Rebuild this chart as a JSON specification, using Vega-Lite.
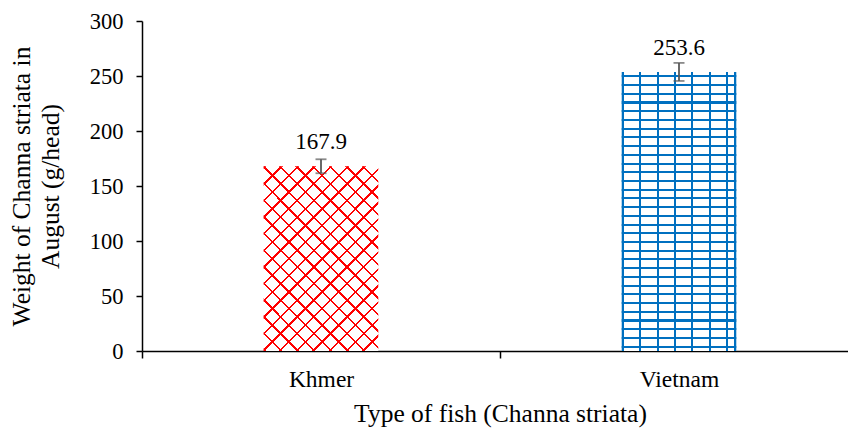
{
  "$schema": "https://vega.github.io/schema/vega-lite/v6.json",
  "autosize": {"type": "none"},
  "padding": {"left": 142, "top": 21, "right": 0, "bottom": 81},
  "width": 706,
  "height": 330,
  "background": "#ffffff",
  "config": {
    "font": "Liberation Serif",
    "view": {"stroke": null},
    "text": {"font": "Liberation Serif"},
    "axis": {"labelFont": "Liberation Serif", "titleFont": "Liberation Serif", "labelColor": "#000", "titleColor": "#000", "titleFontWeight": "normal", "grid": false, "domainColor": "#000", "tickColor": "#000", "domainWidth": 1.5, "tickWidth": 1.5}
  },
  "data": {
    "values": [
      {"type": "Khmer", "value": 167.9, "lo": 161.6, "hi": 174.3},
      {"type": "Vietnam", "value": 253.6, "lo": 245.5, "hi": 261.9}
    ]
  },
  "encoding": {
    "x": {
      "field": "type", "type": "nominal", "sort": ["Khmer", "Vietnam"],
      "scale": {"domain": ["Khmer", "Vietnam"], "range": [0, 716], "paddingInner": 0, "paddingOuter": 0},
      "axis": {"title": "Type of fish (Channa striata)", "labelAngle": 0, "tickBand": "extent", "tickSize": 7, "labelFontSize": 23.5, "labelPadding": 9, "titleFontSize": 25.5, "titlePadding": 11}
    }
  },
  "layer": [
    {
      "transform": [{"filter": "datum.type === 'Khmer'"}],
      "mark": {"type": "bar", "width": {"band": 0.32}, "fill": {"gradient": "linear", "x1": 0, "y1": 0, "x2": 0.726, "y2": 1.17, "stops": [{"offset":0,"color":"#f00"},{"offset":0.008,"color":"#f00"},{"offset":0.008,"color":"#fff"},{"offset":0.0556,"color":"#fff"},
{"offset":0.0556,"color":"#f00"},{"offset":0.0636,"color":"#f00"},{"offset":0.0636,"color":"#fff"},{"offset":0.1111,"color":"#fff"},
{"offset":0.1111,"color":"#f00"},{"offset":0.1191,"color":"#f00"},{"offset":0.1191,"color":"#fff"},{"offset":0.1667,"color":"#fff"},
{"offset":0.1667,"color":"#f00"},{"offset":0.1747,"color":"#f00"},{"offset":0.1747,"color":"#fff"},{"offset":0.2222,"color":"#fff"},
{"offset":0.2222,"color":"#f00"},{"offset":0.2302,"color":"#f00"},{"offset":0.2302,"color":"#fff"},{"offset":0.2778,"color":"#fff"},
{"offset":0.2778,"color":"#f00"},{"offset":0.2858,"color":"#f00"},{"offset":0.2858,"color":"#fff"},{"offset":0.3333,"color":"#fff"},
{"offset":0.3333,"color":"#f00"},{"offset":0.3413,"color":"#f00"},{"offset":0.3413,"color":"#fff"},{"offset":0.3889,"color":"#fff"},
{"offset":0.3889,"color":"#f00"},{"offset":0.3969,"color":"#f00"},{"offset":0.3969,"color":"#fff"},{"offset":0.4444,"color":"#fff"},
{"offset":0.4444,"color":"#f00"},{"offset":0.4524,"color":"#f00"},{"offset":0.4524,"color":"#fff"},{"offset":0.5,"color":"#fff"},
{"offset":0.5,"color":"#f00"},{"offset":0.508,"color":"#f00"},{"offset":0.508,"color":"#fff"},{"offset":0.5556,"color":"#fff"},
{"offset":0.5556,"color":"#f00"},{"offset":0.5636,"color":"#f00"},{"offset":0.5636,"color":"#fff"},{"offset":0.6111,"color":"#fff"},
{"offset":0.6111,"color":"#f00"},{"offset":0.6191,"color":"#f00"},{"offset":0.6191,"color":"#fff"},{"offset":0.6667,"color":"#fff"},
{"offset":0.6667,"color":"#f00"},{"offset":0.6747,"color":"#f00"},{"offset":0.6747,"color":"#fff"},{"offset":0.7222,"color":"#fff"},
{"offset":0.7222,"color":"#f00"},{"offset":0.7302,"color":"#f00"},{"offset":0.7302,"color":"#fff"},{"offset":0.7778,"color":"#fff"},
{"offset":0.7778,"color":"#f00"},{"offset":0.7858,"color":"#f00"},{"offset":0.7858,"color":"#fff"},{"offset":0.8333,"color":"#fff"},
{"offset":0.8333,"color":"#f00"},{"offset":0.8413,"color":"#f00"},{"offset":0.8413,"color":"#fff"},{"offset":0.8889,"color":"#fff"},
{"offset":0.8889,"color":"#f00"},{"offset":0.8969,"color":"#f00"},{"offset":0.8969,"color":"#fff"},{"offset":0.9444,"color":"#fff"},
{"offset":0.9444,"color":"#f00"},{"offset":0.9524,"color":"#f00"},{"offset":0.9524,"color":"#fff"},{"offset":1,"color":"#fff"}]}},
      "encoding": {
        "y": {"field": "value", "type": "quantitative", "scale": {"domain": [0, 300]},
          "axis": {"values": [0, 50, 100, 150, 200, 250, 300], "title": ["Weight of Channa striata in", "August (g/head)"], "labelFontSize": 22.5, "labelPadding": 13, "tickSize": 6, "titleFontSize": 25.5, "titleLineHeight": 29, "titlePadding": 26}}
      }
    },
    {
      "transform": [{"filter": "datum.type === 'Khmer'"}],
      "mark": {"type": "bar", "width": {"band": 0.32}, "fill": {"gradient": "linear", "x1": 0, "y1": 1, "x2": 0.726, "y2": -0.17, "stops": [{"offset":0,"color":"#f00"},{"offset":0.008,"color":"#f00"},{"offset":0.008,"color":"rgba(255,0,0,0)"},{"offset":0.0556,"color":"rgba(255,0,0,0)"},
{"offset":0.0556,"color":"#f00"},{"offset":0.0636,"color":"#f00"},{"offset":0.0636,"color":"rgba(255,0,0,0)"},{"offset":0.1111,"color":"rgba(255,0,0,0)"},
{"offset":0.1111,"color":"#f00"},{"offset":0.1191,"color":"#f00"},{"offset":0.1191,"color":"rgba(255,0,0,0)"},{"offset":0.1667,"color":"rgba(255,0,0,0)"},
{"offset":0.1667,"color":"#f00"},{"offset":0.1747,"color":"#f00"},{"offset":0.1747,"color":"rgba(255,0,0,0)"},{"offset":0.2222,"color":"rgba(255,0,0,0)"},
{"offset":0.2222,"color":"#f00"},{"offset":0.2302,"color":"#f00"},{"offset":0.2302,"color":"rgba(255,0,0,0)"},{"offset":0.2778,"color":"rgba(255,0,0,0)"},
{"offset":0.2778,"color":"#f00"},{"offset":0.2858,"color":"#f00"},{"offset":0.2858,"color":"rgba(255,0,0,0)"},{"offset":0.3333,"color":"rgba(255,0,0,0)"},
{"offset":0.3333,"color":"#f00"},{"offset":0.3413,"color":"#f00"},{"offset":0.3413,"color":"rgba(255,0,0,0)"},{"offset":0.3889,"color":"rgba(255,0,0,0)"},
{"offset":0.3889,"color":"#f00"},{"offset":0.3969,"color":"#f00"},{"offset":0.3969,"color":"rgba(255,0,0,0)"},{"offset":0.4444,"color":"rgba(255,0,0,0)"},
{"offset":0.4444,"color":"#f00"},{"offset":0.4524,"color":"#f00"},{"offset":0.4524,"color":"rgba(255,0,0,0)"},{"offset":0.5,"color":"rgba(255,0,0,0)"},
{"offset":0.5,"color":"#f00"},{"offset":0.508,"color":"#f00"},{"offset":0.508,"color":"rgba(255,0,0,0)"},{"offset":0.5556,"color":"rgba(255,0,0,0)"},
{"offset":0.5556,"color":"#f00"},{"offset":0.5636,"color":"#f00"},{"offset":0.5636,"color":"rgba(255,0,0,0)"},{"offset":0.6111,"color":"rgba(255,0,0,0)"},
{"offset":0.6111,"color":"#f00"},{"offset":0.6191,"color":"#f00"},{"offset":0.6191,"color":"rgba(255,0,0,0)"},{"offset":0.6667,"color":"rgba(255,0,0,0)"},
{"offset":0.6667,"color":"#f00"},{"offset":0.6747,"color":"#f00"},{"offset":0.6747,"color":"rgba(255,0,0,0)"},{"offset":0.7222,"color":"rgba(255,0,0,0)"},
{"offset":0.7222,"color":"#f00"},{"offset":0.7302,"color":"#f00"},{"offset":0.7302,"color":"rgba(255,0,0,0)"},{"offset":0.7778,"color":"rgba(255,0,0,0)"},
{"offset":0.7778,"color":"#f00"},{"offset":0.7858,"color":"#f00"},{"offset":0.7858,"color":"rgba(255,0,0,0)"},{"offset":0.8333,"color":"rgba(255,0,0,0)"},
{"offset":0.8333,"color":"#f00"},{"offset":0.8413,"color":"#f00"},{"offset":0.8413,"color":"rgba(255,0,0,0)"},{"offset":0.8889,"color":"rgba(255,0,0,0)"},
{"offset":0.8889,"color":"#f00"},{"offset":0.8969,"color":"#f00"},{"offset":0.8969,"color":"rgba(255,0,0,0)"},{"offset":0.9444,"color":"rgba(255,0,0,0)"},
{"offset":0.9444,"color":"#f00"},{"offset":0.9524,"color":"#f00"},{"offset":0.9524,"color":"rgba(255,0,0,0)"},{"offset":1,"color":"rgba(255,0,0,0)"}]}},
      "encoding": {"y": {"field": "value", "type": "quantitative"}}
    },
    {
      "transform": [{"filter": "datum.type === 'Vietnam'"}],
      "mark": {"type": "bar", "width": {"band": 0.32}, "fill": {"gradient": "linear", "x1": 0, "y1": 0, "x2": 0, "y2": 1, "stops": [{"offset":0,"color":"#fff"},
{"offset":0.0118,"color":"#fff"},{"offset":0.0118,"color":"#0070c0"},{"offset":0.0193,"color":"#0070c0"},{"offset":0.0193,"color":"#fff"},
{"offset":0.0430,"color":"#fff"},{"offset":0.0430,"color":"#0070c0"},{"offset":0.0505,"color":"#0070c0"},{"offset":0.0505,"color":"#fff"},
{"offset":0.0743,"color":"#fff"},{"offset":0.0743,"color":"#0070c0"},{"offset":0.0818,"color":"#0070c0"},{"offset":0.0818,"color":"#fff"},
{"offset":0.1055,"color":"#fff"},{"offset":0.1055,"color":"#0070c0"},{"offset":0.1130,"color":"#0070c0"},{"offset":0.1130,"color":"#fff"},
{"offset":0.1368,"color":"#fff"},{"offset":0.1368,"color":"#0070c0"},{"offset":0.1443,"color":"#0070c0"},{"offset":0.1443,"color":"#fff"},
{"offset":0.1680,"color":"#fff"},{"offset":0.1680,"color":"#0070c0"},{"offset":0.1755,"color":"#0070c0"},{"offset":0.1755,"color":"#fff"},
{"offset":0.1993,"color":"#fff"},{"offset":0.1993,"color":"#0070c0"},{"offset":0.2068,"color":"#0070c0"},{"offset":0.2068,"color":"#fff"},
{"offset":0.2305,"color":"#fff"},{"offset":0.2305,"color":"#0070c0"},{"offset":0.2380,"color":"#0070c0"},{"offset":0.2380,"color":"#fff"},
{"offset":0.2618,"color":"#fff"},{"offset":0.2618,"color":"#0070c0"},{"offset":0.2693,"color":"#0070c0"},{"offset":0.2693,"color":"#fff"},
{"offset":0.2930,"color":"#fff"},{"offset":0.2930,"color":"#0070c0"},{"offset":0.3005,"color":"#0070c0"},{"offset":0.3005,"color":"#fff"},
{"offset":0.3243,"color":"#fff"},{"offset":0.3243,"color":"#0070c0"},{"offset":0.3318,"color":"#0070c0"},{"offset":0.3318,"color":"#fff"},
{"offset":0.3555,"color":"#fff"},{"offset":0.3555,"color":"#0070c0"},{"offset":0.3630,"color":"#0070c0"},{"offset":0.3630,"color":"#fff"},
{"offset":0.3868,"color":"#fff"},{"offset":0.3868,"color":"#0070c0"},{"offset":0.3943,"color":"#0070c0"},{"offset":0.3943,"color":"#fff"},
{"offset":0.4180,"color":"#fff"},{"offset":0.4180,"color":"#0070c0"},{"offset":0.4255,"color":"#0070c0"},{"offset":0.4255,"color":"#fff"},
{"offset":0.4493,"color":"#fff"},{"offset":0.4493,"color":"#0070c0"},{"offset":0.4568,"color":"#0070c0"},{"offset":0.4568,"color":"#fff"},
{"offset":0.4805,"color":"#fff"},{"offset":0.4805,"color":"#0070c0"},{"offset":0.4880,"color":"#0070c0"},{"offset":0.4880,"color":"#fff"},
{"offset":0.5118,"color":"#fff"},{"offset":0.5118,"color":"#0070c0"},{"offset":0.5193,"color":"#0070c0"},{"offset":0.5193,"color":"#fff"},
{"offset":0.5430,"color":"#fff"},{"offset":0.5430,"color":"#0070c0"},{"offset":0.5505,"color":"#0070c0"},{"offset":0.5505,"color":"#fff"},
{"offset":0.5743,"color":"#fff"},{"offset":0.5743,"color":"#0070c0"},{"offset":0.5818,"color":"#0070c0"},{"offset":0.5818,"color":"#fff"},
{"offset":0.6055,"color":"#fff"},{"offset":0.6055,"color":"#0070c0"},{"offset":0.6130,"color":"#0070c0"},{"offset":0.6130,"color":"#fff"},
{"offset":0.6368,"color":"#fff"},{"offset":0.6368,"color":"#0070c0"},{"offset":0.6443,"color":"#0070c0"},{"offset":0.6443,"color":"#fff"},
{"offset":0.6680,"color":"#fff"},{"offset":0.6680,"color":"#0070c0"},{"offset":0.6755,"color":"#0070c0"},{"offset":0.6755,"color":"#fff"},
{"offset":0.6993,"color":"#fff"},{"offset":0.6993,"color":"#0070c0"},{"offset":0.7068,"color":"#0070c0"},{"offset":0.7068,"color":"#fff"},
{"offset":0.7305,"color":"#fff"},{"offset":0.7305,"color":"#0070c0"},{"offset":0.7380,"color":"#0070c0"},{"offset":0.7380,"color":"#fff"},
{"offset":0.7618,"color":"#fff"},{"offset":0.7618,"color":"#0070c0"},{"offset":0.7693,"color":"#0070c0"},{"offset":0.7693,"color":"#fff"},
{"offset":0.7930,"color":"#fff"},{"offset":0.7930,"color":"#0070c0"},{"offset":0.8005,"color":"#0070c0"},{"offset":0.8005,"color":"#fff"},
{"offset":0.8243,"color":"#fff"},{"offset":0.8243,"color":"#0070c0"},{"offset":0.8318,"color":"#0070c0"},{"offset":0.8318,"color":"#fff"},
{"offset":0.8555,"color":"#fff"},{"offset":0.8555,"color":"#0070c0"},{"offset":0.8630,"color":"#0070c0"},{"offset":0.8630,"color":"#fff"},
{"offset":0.8868,"color":"#fff"},{"offset":0.8868,"color":"#0070c0"},{"offset":0.8943,"color":"#0070c0"},{"offset":0.8943,"color":"#fff"},
{"offset":0.9180,"color":"#fff"},{"offset":0.9180,"color":"#0070c0"},{"offset":0.9255,"color":"#0070c0"},{"offset":0.9255,"color":"#fff"},
{"offset":0.9493,"color":"#fff"},{"offset":0.9493,"color":"#0070c0"},{"offset":0.9568,"color":"#0070c0"},{"offset":0.9568,"color":"#fff"},
{"offset":0.9805,"color":"#fff"},{"offset":0.9805,"color":"#0070c0"},{"offset":0.9880,"color":"#0070c0"},{"offset":0.9880,"color":"#fff"},
{"offset":1,"color":"#fff"}]}},
      "encoding": {"y": {"field": "value", "type": "quantitative"}}
    },
    {
      "transform": [{"filter": "datum.type === 'Vietnam'"}],
      "mark": {"type": "bar", "width": {"band": 0.32}, "fill": {"gradient": "linear", "x1": 0, "y1": 0, "x2": 1, "y2": 0, "stops": [
{"offset":0,"color":"#0070c0"},{"offset":0.0175,"color":"#0070c0"},{"offset":0.0175,"color":"rgba(0,112,192,0)"},
{"offset":0.152,"color":"rgba(0,112,192,0)"},{"offset":0.152,"color":"#0070c0"},{"offset":0.1695,"color":"#0070c0"},{"offset":0.1695,"color":"rgba(0,112,192,0)"},
{"offset":0.304,"color":"rgba(0,112,192,0)"},{"offset":0.304,"color":"#0070c0"},{"offset":0.3215,"color":"#0070c0"},{"offset":0.3215,"color":"rgba(0,112,192,0)"},
{"offset":0.456,"color":"rgba(0,112,192,0)"},{"offset":0.456,"color":"#0070c0"},{"offset":0.4735,"color":"#0070c0"},{"offset":0.4735,"color":"rgba(0,112,192,0)"},
{"offset":0.608,"color":"rgba(0,112,192,0)"},{"offset":0.608,"color":"#0070c0"},{"offset":0.6255,"color":"#0070c0"},{"offset":0.6255,"color":"rgba(0,112,192,0)"},
{"offset":0.76,"color":"rgba(0,112,192,0)"},{"offset":0.76,"color":"#0070c0"},{"offset":0.7775,"color":"#0070c0"},{"offset":0.7775,"color":"rgba(0,112,192,0)"},
{"offset":0.912,"color":"rgba(0,112,192,0)"},{"offset":0.912,"color":"#0070c0"},{"offset":0.9295,"color":"#0070c0"},{"offset":0.9295,"color":"rgba(0,112,192,0)"},
{"offset":0.9825,"color":"rgba(0,112,192,0)"},{"offset":0.9825,"color":"#0070c0"},{"offset":1,"color":"#0070c0"}]}},
      "encoding": {"y": {"field": "value", "type": "quantitative"}}
    },
    {
      "mark": {"type": "rule", "color": "#595959", "strokeWidth": 1.8},
      "encoding": {"y": {"field": "lo", "type": "quantitative"}, "y2": {"field": "hi"}}
    },
    {
      "mark": {"type": "tick", "color": "#595959", "size": 11, "thickness": 1.8},
      "encoding": {"y": {"field": "lo", "type": "quantitative"}}
    },
    {
      "mark": {"type": "tick", "color": "#595959", "size": 11, "thickness": 1.8},
      "encoding": {"y": {"field": "hi", "type": "quantitative"}}
    },
    {
      "mark": {"type": "text", "fontSize": 23, "color": "#000", "baseline": "alphabetic", "dy": -17},
      "encoding": {"y": {"field": "value", "type": "quantitative"}, "text": {"field": "value", "type": "quantitative", "format": ".1f"}}
    }
  ]
}
